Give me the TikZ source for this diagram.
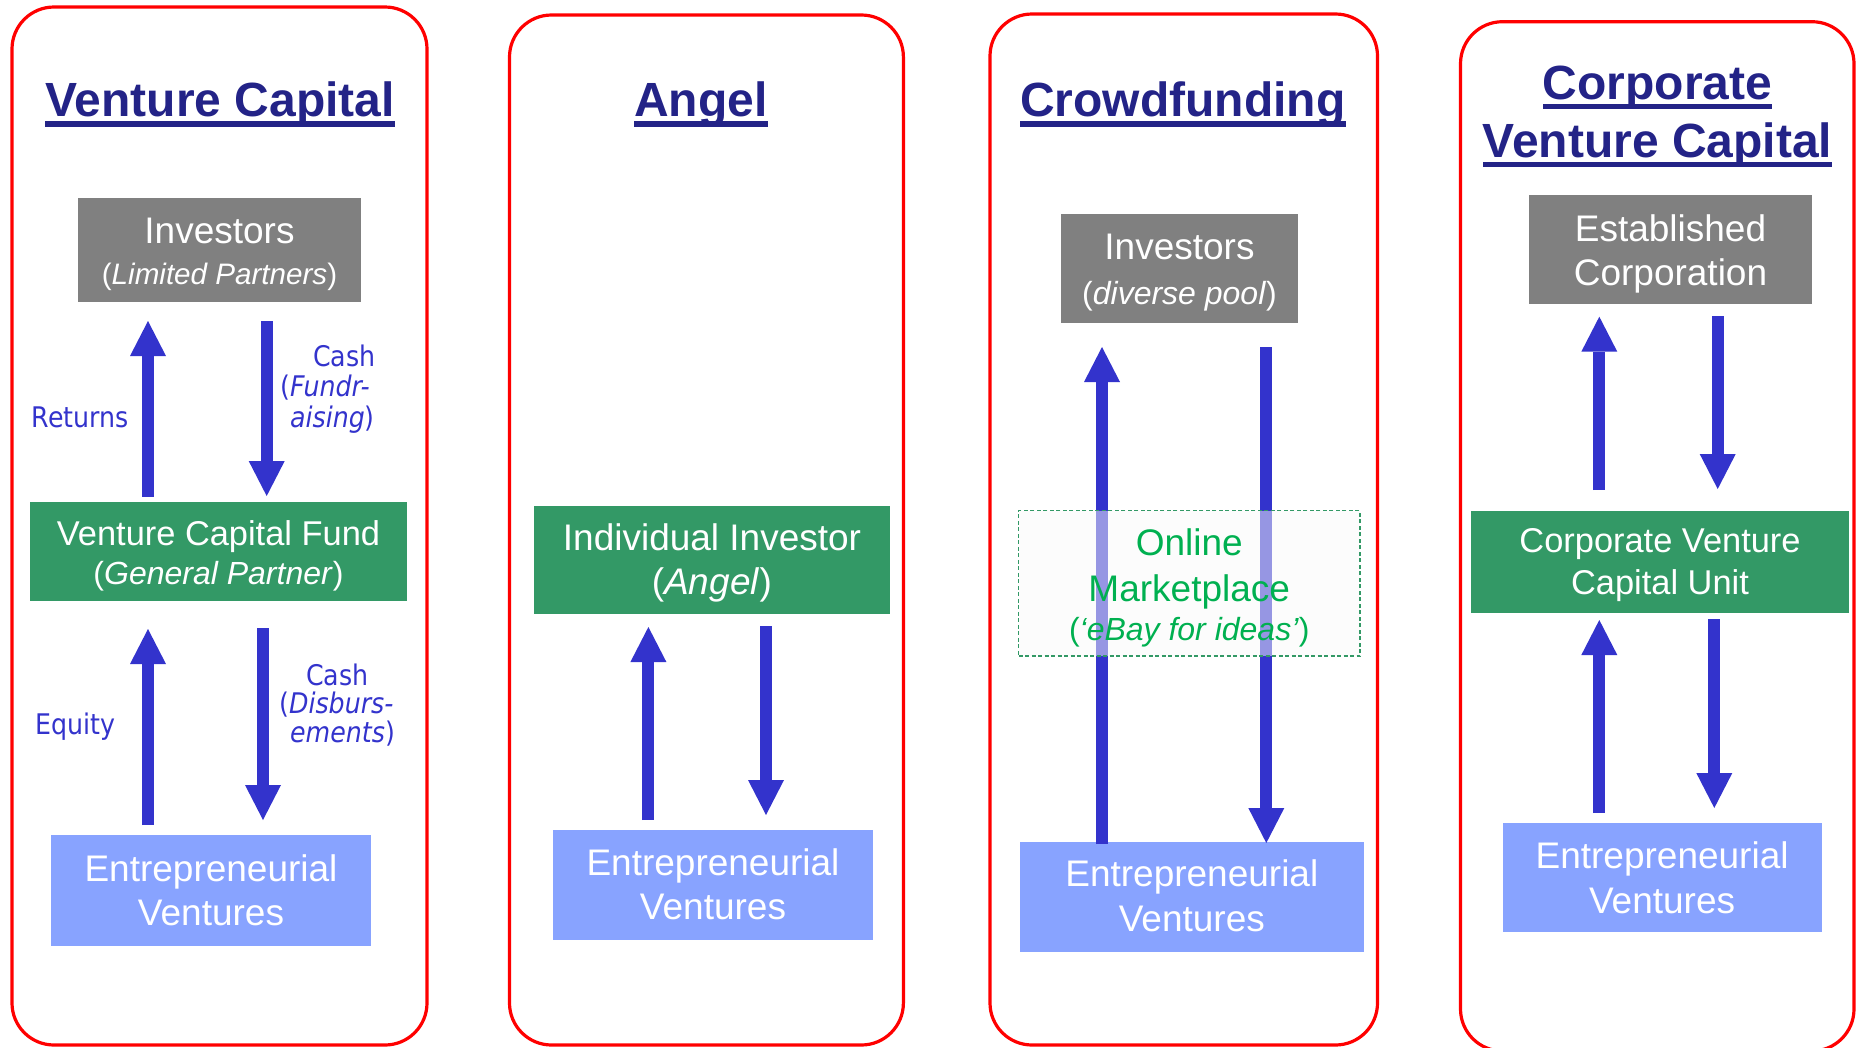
\documentclass[tikz,border=0pt]{standalone}
\usepackage{fontspec}
\setmainfont{Liberation Sans}
\newfontfamily\lblfont[FakeStretch=0.89]{DejaVu Sans}
\usetikzlibrary{arrows.meta,fit}
\definecolor{panelred}{RGB}{255,0,0}
\definecolor{navy}{RGB}{35,35,135}
\definecolor{boxgray}{RGB}{128,128,128}
\definecolor{boxgreen}{RGB}{51,153,102}
\definecolor{boxblue}{RGB}{136,163,255}
\definecolor{arrowblue}{RGB}{51,51,204}
\definecolor{mktgreen}{RGB}{0,176,80}
\definecolor{mktfill}{RGB}{250,250,250}
\tikzset{
  panel/.style={draw=panelred, line width=3.2pt, rounded corners=42pt, inner sep=0pt, outer sep=0pt},
  box/.style={inner sep=0pt, outer sep=0pt, draw=none},
  graybox/.style={box, fill=boxgray},
  greenbox/.style={box, fill=boxgreen},
  bluebox/.style={box, fill=boxblue},
  mktbox/.style={inner sep=0pt, outer sep=0pt, fill=mktfill, fill opacity=0.5, draw=boxgreen, line width=1.3pt, dash pattern=on 4pt off 2.5pt},
  ttl/.style={anchor=base, inner sep=0pt, text=navy, font=\fontsize{48}{56}\selectfont\bfseries},
  btxt/.style={anchor=base, inner sep=0pt, text=white},
  mtxt/.style={anchor=base, inner sep=0pt, text=mktgreen},
  lbl/.style={anchor=base west, inner sep=0pt, text=arrowblue, font=\lblfont\fontsize{28.4}{32}\selectfont},
  fa/.style={font=\fontsize{37}{44}\selectfont},
  fb/.style={font=\fontsize{34.4}{40}\selectfont},
  fc/.style={font=\fontsize{32}{38}\selectfont},
  fd/.style={font=\fontsize{29.6}{35}\selectfont},
  flow/.style={draw=arrowblue, line width=12pt, -{Triangle[length=35pt,width=36pt,line width=0pt]}},
}
\begin{document}
\begin{tikzpicture}[x=1pt,y=-1pt]
\useasboundingbox (0,0) rectangle (1858,1047);
% panels
\node[panel, fit={(12,7) (427,1045)}] (p1) {};
\node[panel, fit={(509.5,15) (903.4,1045)}] (p2) {};
\node[panel, fit={(990,14) (1377.5,1045)}] (p3) {};
\node[panel, fit={(1460.5,21.7) (1854,1051)}] (p4) {};
% titles
\node[ttl] (t1) at (220.3,116.7) {Venture Capital};
\node[ttl] (t2) at (701,116.7) {Angel};
\node[ttl] (t3) at (1182.8,116.7) {Crowdfunding};
\node[ttl] (t4a) at (1657.5,99.3) {Corporate};
\node[ttl] (t4b) at (1657.5,157.3) {Venture Capital};
\foreach \t in {t1,t2,t3,t4a,t4b}{
  \fill[navy] ([yshift=-4.3pt]\t.base west) rectangle ([yshift=-10pt]\t.base east);
}
% ===== Venture Capital =====
\node[graybox, fit={(78,198) (361,302)}] (inv1) {};
\node[btxt, fa] (inv1a) at (inv1.center |- 0,243.5) {Investors};
\node[btxt, fd] (inv1b) at (inv1.center |- 0,284.3) {(\textit{Limited Partners})};
\node[greenbox, fit={(30,502) (407,601)}] (fund) {};
\node[btxt, fb] (funda) at (fund.center |- 0,545) {Venture Capital Fund};
\node[btxt, fc] (fundb) at (fund.center |- 0,584.3) {(\textit{General Partner})};
\node[bluebox, fit={(51,835) (371,946)}] (ev1) {};
\node[btxt, fa] (ev1a) at (ev1.center |- 0,881.2) {Entrepreneurial};
\node[btxt, fa] (ev1b) at (ev1.center |- 0,925.3) {Ventures};
\draw[flow, shorten <=5.3pt, shorten >=19pt] (148,0 |- fund.north) -- (148,0 |- inv1.south);
\draw[flow, shorten <=19pt, shorten >=6pt] (266.7,0 |- inv1.south) -- (266.7,0 |- fund.north);
\draw[flow, shorten <=10pt, shorten >=28pt] (148,0 |- ev1.north) -- (148,0 |- fund.south);
\draw[flow, shorten <=27pt, shorten >=15pt] (263,0 |- fund.south) -- (263,0 |- ev1.north);
\node[lbl] (l1) at (31.7,427.3) {Returns};
\node[lbl] (l2a) at (313,366) {Cash};
\node[lbl] (l2b) at (280,396.7) {(\textit{Fundr-}};
\node[lbl] (l2c) at (290,427.3) {\textit{aising})};
\node[lbl] (l3) at (35,734) {Equity};
\node[lbl] (l4a) at (306,685) {Cash};
\node[lbl] (l4b) at (279,713.3) {(\textit{Disburs-}};
\node[lbl] (l4c) at (290,742) {\textit{ements})};
% ===== Angel =====
\node[greenbox, fit={(534,505.7) (890,613.6)}] (ang) {};
\node[btxt, fa] (anga) at (ang.center |- 0,550.8) {Individual Investor};
\node[btxt, fa] (angb) at (ang.center |- 0,594.9) {(\textit{Angel})};
\node[bluebox, fit={(553,830.4) (873,939.7)}] (ev2) {};
\node[btxt, fa] (ev2a) at (ev2.center |- 0,875.8) {Entrepreneurial};
\node[btxt, fa] (ev2b) at (ev2.center |- 0,919.7) {Ventures};
\draw[flow, shorten <=10.4pt, shorten >=13.4pt] (648.4,0 |- ev2.north) -- (648.4,0 |- ang.south);
\draw[flow, shorten <=12.4pt, shorten >=15.4pt] (766,0 |- ang.south) -- (766,0 |- ev2.north);
% ===== Crowdfunding =====
\node[graybox, fit={(1061,214) (1298,323.4)}] (inv3) {};
\node[btxt, fa] (inv3a) at (inv3.center |- 0,259.2) {Investors};
\node[btxt, fc] (inv3b) at (inv3.center |- 0,304.5) {(\textit{diverse pool})};
\node[bluebox, fit={(1019.6,841.7) (1364,952)}] (ev3) {};
\node[btxt, fa] (ev3a) at (ev3.center |- 0,886.9) {Entrepreneurial};
\node[btxt, fa] (ev3b) at (ev3.center |- 0,931.4) {Ventures};
\draw[flow, shorten <=-2.3pt, shorten >=23.6pt] (1102,0 |- ev3.north) -- (1102,0 |- inv3.south);
\draw[flow, shorten <=23.6pt, shorten >=-1.3pt] (1266.3,0 |- inv3.south) -- (1266.3,0 |- ev3.north);
\node[mktbox, fit={(1018.5,510.7) (1360,656)}] (mkt) {};
\node[mtxt, fa] (mkta) at (mkt.center |- 0,555) {Online};
\node[mtxt, fa] (mktb) at (mkt.center |- 0,601.7) {Marketplace};
\node[mtxt, fc] (mktc) at (mkt.center |- 0,640) {(\textit{‘eBay for ideas’})};
% ===== Corporate Venture Capital =====
\node[graybox, fit={(1529,195) (1812,304.3)}] (corp) {};
\node[btxt, fa] (corpa) at (corp.center |- 0,241.5) {Established};
\node[btxt, fa] (corpb) at (corp.center |- 0,285) {Corporation};
\node[greenbox, fit={(1471,510.7) (1849,612.6)}] (cvcu) {};
\node[btxt, fb] (cvcua) at (cvcu.center |- 0,552.4) {Corporate Venture};
\node[btxt, fb] (cvcub) at (cvcu.center |- 0,594.2) {Capital Unit};
\node[bluebox, fit={(1502.5,823.3) (1821.7,931.7)}] (ev4) {};
\node[btxt, fa] (ev4a) at (ev4.center |- 0,868.5) {Entrepreneurial};
\node[btxt, fa] (ev4b) at (ev4.center |- 0,913) {Ventures};
\draw[flow, shorten <=20.7pt, shorten >=12.4pt] (1599.3,0 |- cvcu.north) -- (1599.3,0 |- corp.south);
\draw[flow, shorten <=11.7pt, shorten >=21.7pt] (1717.7,0 |- corp.south) -- (1717.7,0 |- cvcu.north);
\draw[flow, shorten <=10.3pt, shorten >=7.4pt] (1599.3,0 |- ev4.north) -- (1599.3,0 |- cvcu.south);
\draw[flow, shorten <=6.7pt, shorten >=15.3pt] (1714.3,0 |- cvcu.south) -- (1714.3,0 |- ev4.north);
\end{tikzpicture}
\end{document}
